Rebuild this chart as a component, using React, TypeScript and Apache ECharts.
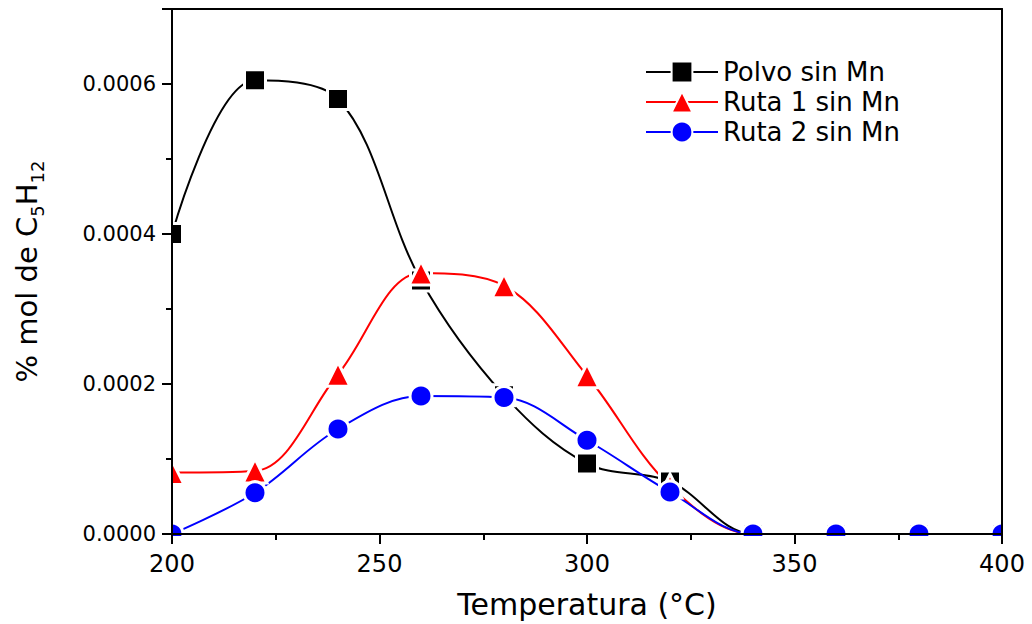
import React, { useEffect, useRef } from "react";
import * as echarts from "echarts";

const temperatures = [200, 220, 240, 260, 280, 300, 320, 340, 360, 380, 400];
const polvoSinMn = [0.0004, 0.000605, 0.00058, 0.000338, 0.000185, 0.000094, 0.00007, 0, 0, 0, 0];
const ruta1SinMn = [0.000082, 0.000084, 0.000213, 0.000348, 0.000331, 0.000211, 0.000064, 0, 0, 0, 0];
const ruta2SinMn = [0, 0.000055, 0.00014, 0.000184, 0.000182, 0.000125, 0.000056, 0, 0, 0, 0];
const yTickLabels = ["0.0000", "0.0002", "0.0004", "0.0006"];

const FONT = "'DejaVu Sans', 'Liberation Sans', Arial, sans-serif";

export default function App() {
  const ref = useRef<HTMLDivElement>(null);
  useEffect(() => {
    if (!ref.current) return;
    const chart = echarts.init(ref.current, undefined, { renderer: "svg" });
    const toPairs = (arr: number[]) => temperatures.map((t, i) => [t, arr[i]]);
    const mk = (name: string, data: number[], color: string, symbol: string, size: number) => ({
      name,
      type: "line",
      data: toPairs(data),
      smooth: 0.35,
      symbol,
      symbolSize: size,
      showAllSymbol: true,
      z: 2,
      lineStyle: { color, width: 2 },
      itemStyle: { color, borderColor: "#fff", borderWidth: 3 },
      emphasis: { disabled: true },
    });
    chart.setOption({
      animation: false,
      backgroundColor: "#fff",
      grid: { left: 172, right: 30, top: 9, bottom: 89, containLabel: false },
      legend: {
        left: 640,
        top: 54,
        orient: "vertical",
        itemWidth: 72,
        itemHeight: 26,
        itemGap: 4,
        z: 60,
        textStyle: { fontFamily: FONT, fontSize: 26, color: "#000" },
        data: ["Polvo sin Mn", "Ruta 1 sin Mn", "Ruta 2 sin Mn"],
      },
      xAxis: [
        {
          type: "value",
          min: 200,
          max: 400,
          interval: 50,
          z: 100,
          position: "bottom",
          name: "Temperatura (°C)",
          nameLocation: "middle",
          nameGap: 55,
          nameTextStyle: { fontFamily: FONT, fontSize: 30, color: "#000" },
          axisLine: { show: true, onZero: false, lineStyle: { color: "#000", width: 2 } },
          axisTick: { show: true, inside: false, length: 10, lineStyle: { color: "#000", width: 2 } },
          minorTick: { show: true, splitNumber: 2, length: 6, lineStyle: { color: "#000", width: 2 } },
          axisLabel: { fontFamily: FONT, fontSize: 24, color: "#000", margin: 18 },
          splitLine: { show: false },
        },
        {
          type: "value",
          min: 200,
          max: 400,
          position: "top",
          z: 100,
          axisLine: { show: true, onZero: false, lineStyle: { color: "#000", width: 2 } },
          axisTick: { show: false },
          axisLabel: { show: false },
          splitLine: { show: false },
        },
      ],
      yAxis: [
        {
          type: "value",
          min: 0,
          max: 0.0007,
          interval: 0.0002,
          z: 100,
          name: "{a|% mol de C}{s|5}{a|H}{s|12}",
          nameLocation: "middle",
          nameGap: 125,
          nameRotate: 90,
          nameTextStyle: {
            fontFamily: FONT,
            color: "#000",
            rich: {
              a: { fontFamily: FONT, fontSize: 29, color: "#000", lineHeight: 40, verticalAlign: "middle" },
              s: { fontFamily: FONT, fontSize: 18, color: "#000", lineHeight: 40, padding: [20, 0, 0, 0], verticalAlign: "middle" },
            },
          },
          axisLine: { show: true, onZero: false, lineStyle: { color: "#000", width: 2 } },
          axisTick: { show: true, inside: false, length: 10, lineStyle: { color: "#000", width: 2 } },
          minorTick: { show: true, splitNumber: 2, length: 6, lineStyle: { color: "#000", width: 2 } },
          axisLabel: {
            fontFamily: FONT,
            fontSize: 21,
            color: "#000",
            margin: 16,
            showMaxLabel: false,
            formatter: (v: number) => {
              const idx = Math.round(v / 0.0002);
              return yTickLabels[idx] ?? "";
            },
          },
          splitLine: { show: false },
        },
        {
          type: "value",
          min: 0,
          max: 0.0007,
          position: "right",
          z: 100,
          axisLine: { show: true, onZero: false, lineStyle: { color: "#000", width: 2 } },
          axisTick: { show: false },
          axisLabel: { show: false },
          splitLine: { show: false },
        },
      ],
      graphic: {
        elements: [
          { type: "rect", z: 50, silent: true, shape: { x: 0, y: 0, width: 171, height: 624 }, style: { fill: "#fff" } },
          { type: "rect", z: 50, silent: true, shape: { x: 0, y: 536, width: 1032, height: 88 }, style: { fill: "#fff" } },
          { type: "rect", z: 50, silent: true, shape: { x: 1003, y: 0, width: 29, height: 624 }, style: { fill: "#fff" } },
          { type: "rect", z: 50, silent: true, shape: { x: 0, y: 0, width: 1032, height: 8 }, style: { fill: "#fff" } },
        ],
      },
      series: [
        mk("Polvo sin Mn", polvoSinMn, "#000000", "rect", 21),
        mk("Ruta 1 sin Mn", ruta1SinMn, "#ff0000", "triangle", 24),
        mk("Ruta 2 sin Mn", ruta2SinMn, "#0000ff", "circle", 22),
      ],
    });
    return () => chart.dispose();
  }, []);
  return <div ref={ref} style={{ width: 1032, height: 624, position: "absolute", left: 0, top: 0 }} />;
}
